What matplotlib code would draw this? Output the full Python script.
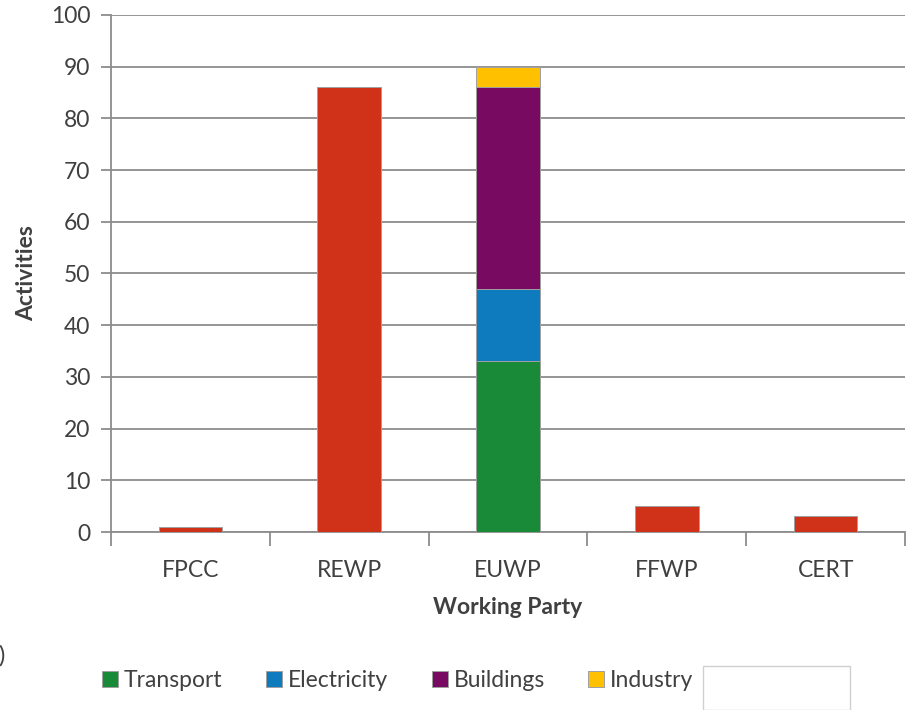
import matplotlib
matplotlib.use('Agg')
import matplotlib.pyplot as plt
import numpy as np
from matplotlib.patches import Rectangle

# --- data ---
parties = ['FPCC', 'REWP', 'EUWP', 'FFWP', 'CERT']
other = [1, 86, 0, 5, 3]          # red bars (no legend entry shown)
transport = [0, 0, 33, 0, 0]
electricity = [0, 0, 14, 0, 0]
buildings = [0, 0, 39, 0, 0]
industry = [0, 0, 4, 0, 0]

plt.rcParams['font.family'] = ['Lato', 'DejaVu Sans']
txt = '#404040'
grid_c = '#8c8c8c'
fs = 16.5

fig = plt.figure(figsize=(9.07, 7.10), dpi=100)
ax = fig.add_axes([0.1224, 0.2507, 0.8755, 0.7282])

x = np.arange(len(parties))
w = 0.4
edge = dict(edgecolor='#a0a0a0', linewidth=0.7)
ax.bar(x, other, w, color='#CF3218', zorder=3, **edge)
bottom = np.zeros(len(parties))
series = [('Transport', transport, '#198A37'),
          ('Electricity', electricity, '#0E7BBF'),
          ('Buildings', buildings, '#780A62'),
          ('Industry', industry, '#FFC000')]
handles = []
for name, vals, col in series:
    b = ax.bar(x, vals, w, bottom=bottom, color=col, zorder=3, label=name, **edge)
    handles.append(b)
    bottom += np.array(vals)

ax.set_xlim(-0.5, 4.5)
ax.set_ylim(0, 100)
ax.set_yticks(range(0, 101, 10))
ax.yaxis.grid(True, color=grid_c, linewidth=1.3, zorder=0)
ax.set_axisbelow(True)

ax.set_xticks(x)
ax.set_xticklabels(parties)
ax.set_xticks(np.arange(-0.5, 5.0, 1.0), minor=True)
ax.tick_params(axis='x', which='major', length=0, pad=20, labelsize=fs, labelcolor=txt)
ax.tick_params(axis='x', which='minor', length=10, width=1.3, color=grid_c)
ax.tick_params(axis='y', length=7, width=1.3, color=grid_c, labelsize=fs, labelcolor=txt, pad=8)

for s in ['top', 'right']:
    ax.spines[s].set_visible(False)
for s in ['left', 'bottom']:
    ax.spines[s].set_color(grid_c)
    ax.spines[s].set_linewidth(1.3)

ax.set_ylabel('Activities', fontsize=fs, fontweight='bold', color=txt, labelpad=10)
ax.set_xlabel('Working Party', fontsize=fs, fontweight='bold', color=txt, labelpad=12)

fig.legend(handles=handles, loc='center left', bbox_to_anchor=(0.090, 0.041),
           ncol=4, frameon=False, fontsize=fs, handlelength=0.7, handleheight=0.7,
           handletextpad=0.25, columnspacing=1.9, labelcolor=txt)

# white box covering the last legend entry
fig.patches.append(Rectangle((703 / 907, 0), 147 / 907, 44 / 710, transform=fig.transFigure,
                             facecolor='white', edgecolor='#d0d0d0', linewidth=1))
fig.text(-0.002, 0.077, ')', fontsize=17, color=txt, va='center', ha='left')

fig.savefig('out.png', dpi=100)
